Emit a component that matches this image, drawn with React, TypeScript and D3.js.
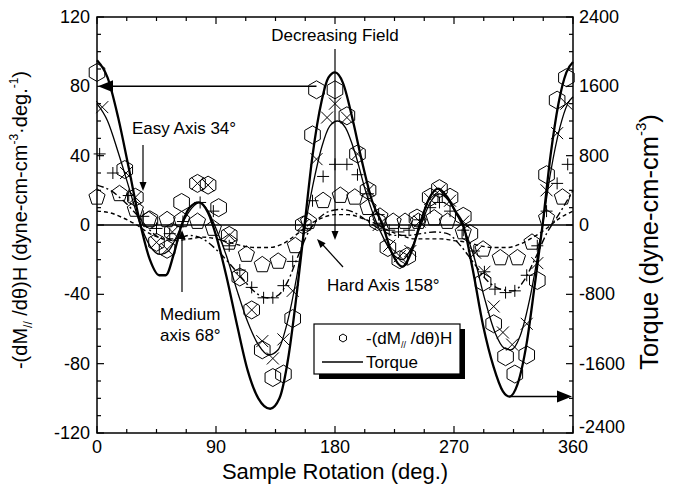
import React from "react";
import * as d3 from "d3";

// ---------- data ----------
const xMajorTicks = [0, 90, 180, 270, 360];
const yLeftTicks = [-120, -80, -40, 0, 40, 80, 120];
const yRightTicks = [-2400, -1600, -800, 0, 800, 1600, 2400];

// torque curves (dyne-cm-cm^-3)
const torqueThickAngles = [0, 8, 16, 24, 32, 40, 47, 52, 58, 64, 70, 77, 84, 90, 98, 106, 114, 122, 131, 138, 145, 151, 157, 163, 170, 175, 180, 186, 193, 200, 208, 216, 223, 231, 238, 244, 251, 258, 265, 271, 277, 284, 292, 300, 307, 312, 318, 325, 331, 337, 343, 349, 355, 360];
const torqueThickValues = [1900, 1700, 1240, 660, 60, -400, -580, -580, -340, 0, 200, 260, 140, -120, -600, -1160, -1680, -2000, -2120, -2000, -1500, -800, 0, 800, 1440, 1700, 1760, 1640, 1240, 760, 280, 0, -320, -480, -300, 0, 300, 420, 320, 160, 0, -500, -1160, -1640, -1920, -1980, -1840, -1360, -700, 0, 800, 1400, 1760, 1880];

const torqueThinAngles = [0, 8, 16, 24, 32, 40, 48, 54, 60, 66, 72, 78, 84, 90, 98, 106, 114, 122, 130, 137, 144, 151, 157, 163, 170, 176, 182, 188, 195, 203, 210, 217, 224, 231, 238, 245, 252, 259, 266, 272, 278, 285, 293, 301, 308, 313, 320, 328, 336, 343, 350, 356, 360];
const torqueThinValues = [1400, 1200, 840, 440, 40, -240, -340, -300, -140, 60, 200, 260, 160, -40, -360, -760, -1120, -1380, -1500, -1440, -1120, -600, -40, 440, 900, 1140, 1200, 1120, 840, 400, 80, -160, -340, -400, -260, 0, 260, 360, 280, 120, -60, -360, -840, -1240, -1420, -1440, -1280, -800, -100, 600, 1120, 1400, 1480];

const torqueDashDotAngles = [0, 10, 20, 30, 40, 50, 60, 70, 80, 90, 100, 110, 120, 128, 136, 144, 152, 160, 168, 176, 185, 195, 205, 215, 225, 235, 245, 255, 265, 275, 285, 295, 305, 315, 323, 331, 340, 350, 360];
const torqueDashDotValues = [460, 400, 280, 120, -60, -160, -160, -120, -160, -280, -440, -620, -780, -840, -820, -660, -360, -80, 80, 160, 180, 140, 40, -60, -120, -120, -100, -80, -100, -240, -440, -640, -740, -760, -640, -400, -100, 140, 400];

const torqueDashAngles = [0, 10, 20, 30, 40, 50, 60, 70, 80, 90, 100, 110, 120, 130, 140, 150, 160, 170, 180, 190, 200, 210, 220, 230, 240, 250, 260, 270, 280, 290, 300, 310, 320, 330, 340, 350, 360];
const torqueDashValues = [160, 140, 80, 0, -100, -160, -180, -160, -140, -160, -200, -240, -260, -260, -220, -120, 0, 80, 120, 120, 80, 20, -60, -120, -160, -160, -160, -180, -200, -240, -260, -260, -220, -140, -40, 80, 160];

// -(dM///dθ)H data (dyne-cm-cm^-3·deg^-1)
const hexAngles = [0, 21, 29, 40, 45, 53, 57, 64, 76, 84, 92, 100, 108, 117, 125, 133, 141, 148, 156, 163, 166, 180, 189, 197, 205, 212, 220, 229, 235, 242, 252, 259, 267, 277, 282, 292, 300, 309, 316, 325, 333, 340, 348, 355];
const hexValues = [88, 32, 16, 3, -10, -14, -4, 13, 24, 23, 10, -6, -30, -49, -72, -88, -86, -54, 0, 52, 78, 78, 63, 41, 20, 2, -13, -20, -18, 4, 16, 21, 16, 5, -5, -33, -57, -76, -86, -75, -32, 29, 72, 85];

const crossAngles = [4, 22, 29, 45, 53, 57, 76, 84, 100, 108, 117, 125, 133, 141, 148, 156, 166, 174, 180, 189, 197, 205, 213, 221, 229, 237, 244, 252, 259, 267, 277, 286, 293, 300, 307, 314, 325, 333, 340, 348, 355];
const crossValues = [68, 30, 16, -10, -14, -4, 24, 23, -6, -30, -49, -67, -77, -66, -38, 0, 38, 62, 70, 62, 41, 20, 0, -12, -18, -15, 2, 15, 20, 14, 2, -16, -27, -47, -62, -69, -57, -22, 20, 53, 70];

const plusAngles = [2, 12, 24, 35, 45, 55, 65, 78, 88, 100, 108, 117, 126, 133, 141, 148, 156, 163, 171, 180, 189, 197, 205, 213, 221, 228, 236, 244, 252, 259, 267, 277, 285, 293, 301, 309, 316, 325, 333, 340, 348, 356];
const plusValues = [41, 30, 17, 5, -2, -5, 2, 13, 8, -12, -26, -36, -42, -42, -35, -21, -3, 14, 28, 35, 35, 29, 18, 6, -3, -4, -3, 3, 10, 13, 8, -3, -15, -27, -37, -39, -38, -29, -12, 8, 24, 35];

const pentAngles = [0, 17, 29, 39, 53, 64, 76, 88, 100, 113, 125, 137, 150, 160, 171, 184, 195, 205, 214, 224, 233, 243, 255, 265, 277, 292, 305, 318, 329, 340, 352];
const pentValues = [16, 18, 9, 3, 3, 3, 2, -2, -10, -17, -23, -21, -12, 2, 14, 17, 16, 10, 5, 2, 2, 2, 4, 2, -4, -14, -19, -19, -10, 4, 16];

// ---------- helpers ----------
const FONT = "'Liberation Sans', Arial, Helvetica, sans-serif";

function polygonPath(cx: number, cy: number, n: number, r: number): string {
  const p = d3.path();
  for (let i = 0; i < n; i++) {
    const a = -Math.PI / 2 + (i * 2 * Math.PI) / n;
    const px = cx + r * Math.cos(a);
    const py = cy + r * Math.sin(a);
    if (i === 0) p.moveTo(px, py);
    else p.lineTo(px, py);
  }
  p.closePath();
  return p.toString();
}

function arrowHead(tipX: number, tipY: number, dirDeg: number, len: number, half: number): string {
  const a = (dirDeg * Math.PI) / 180;
  const bx = tipX - len * Math.cos(a);
  const by = tipY - len * Math.sin(a);
  const nx = -Math.sin(a);
  const ny = Math.cos(a);
  const p = d3.path();
  p.moveTo(tipX, tipY);
  p.lineTo(bx + nx * half, by + ny * half);
  p.lineTo(bx - nx * half, by - ny * half);
  p.closePath();
  return p.toString();
}

export default function App() {
  const left = 97, right = 573, top = 17, bottom = 433;
  const x = d3.scaleLinear().domain([0, 360]).range([left, right]);
  const yL = d3.scaleLinear().domain([-120, 120]).range([bottom, top]);
  const yR = d3.scaleLinear().domain([-2400, 2400]).range([bottom, top]);

  const torqueLine = d3
    .line<[number, number]>()
    .x((d) => x(d[0]))
    .y((d) => yR(d[1]))
    .curve(d3.curveMonotoneX);

  const zip = (a: number[], b: number[]) => a.map((v, i) => [v, b[i]] as [number, number]);

  const xMinor = d3.range(0, 360.01, 22.5);
  const yMinor = d3.range(-120, 120.01, 10);
  const yRMinor = d3.range(-2400, 2400.01, 200);

  const tickText = { fontFamily: FONT, fontSize: 18, fill: "#000" } as const;

  return (
    <svg
      width={678}
      height={498}
      style={{ position: "absolute", left: 0, top: 0, background: "#fff" }}
    >
      <rect x={0} y={0} width={678} height={498} fill="#fff" />
      {/* frame */}
      <rect x={left} y={top} width={right - left} height={bottom - top} fill="none" stroke="#000" strokeWidth={1.5} />
      {/* zero line */}
      <line x1={left} x2={right} y1={yL(0)} y2={yL(0)} stroke="#000" strokeWidth={1.5} />

      {/* x ticks */}
      {xMinor.map((t) => {
        const major = xMajorTicks.includes(t);
        const len = major ? 7 : 4;
        return (
          <g key={"xt" + t}>
            <line x1={x(t)} x2={x(t)} y1={bottom} y2={bottom - len} stroke="#000" strokeWidth={1.2} />
            <line x1={x(t)} x2={x(t)} y1={top} y2={top + len} stroke="#000" strokeWidth={1.2} />
          </g>
        );
      })}
      {xMajorTicks.map((t) => (
        <text key={"xl" + t} x={x(t)} y={bottom + 20} textAnchor="middle" {...tickText}>
          {t}
        </text>
      ))}
      {/* left ticks */}
      {yMinor.map((t) => {
        const major = yLeftTicks.includes(t);
        const len = major ? 7 : 4;
        return <line key={"yt" + t} x1={left} x2={left + len} y1={yL(t)} y2={yL(t)} stroke="#000" strokeWidth={1.2} />;
      })}
      {yLeftTicks.map((t) => (
        <text key={"yl" + t} x={left - 7} y={yL(t) + 6} textAnchor="end" {...tickText}>
          {t}
        </text>
      ))}
      {/* right ticks */}
      {yRMinor.map((t) => {
        const major = yRightTicks.includes(t);
        const len = major ? 7 : 4;
        return <line key={"yrt" + t} x1={right} x2={right - len} y1={yR(t)} y2={yR(t)} stroke="#000" strokeWidth={1.2} />;
      })}
      {yRightTicks.map((t) => (
        <text key={"yrl" + t} x={right + 6} y={yR(t) + (t === -2400 ? 0 : 6)} textAnchor="start" {...tickText}>
          {t}
        </text>
      ))}

      {/* axis titles */}
      <text x={(left + right) / 2} y={479} textAnchor="middle" fontFamily={FONT} fontSize={22}>
        Sample Rotation (deg.)
      </text>
      <text transform="translate(27,220) rotate(-90)" textAnchor="middle" fontFamily={FONT} fontSize={20}>
        -(dM<tspan fontSize={12} dy={5}>//</tspan>
        <tspan dy={-5}> /dθ)H (dyne-cm-cm</tspan>
        <tspan fontSize={12} dy={-9}>-3</tspan>
        <tspan dy={9}>·deg.</tspan>
        <tspan fontSize={12} dy={-9}>-1</tspan>
        <tspan dy={9}>)</tspan>
      </text>
      <text transform="translate(658,242) rotate(-90)" textAnchor="middle" fontFamily={FONT} fontSize={25.5}>
        Torque (dyne-cm-cm<tspan fontSize={15} dy={-12}>-3</tspan>
        <tspan dy={12}>)</tspan>
      </text>

      {/* torque curves */}
      <path d={torqueLine(zip(torqueDashAngles, torqueDashValues)) || ""} fill="none" stroke="#000" strokeWidth={1.4} strokeDasharray="4,3" />
      <path d={torqueLine(zip(torqueDashDotAngles, torqueDashDotValues)) || ""} fill="none" stroke="#000" strokeWidth={1.4} strokeDasharray="7,3,2,3" />
      <path d={torqueLine(zip(torqueThinAngles, torqueThinValues)) || ""} fill="none" stroke="#000" strokeWidth={1.3} />
      <path d={torqueLine(zip(torqueThickAngles, torqueThickValues)) || ""} fill="none" stroke="#000" strokeWidth={2.3} />

      {/* markers */}
      {pentAngles.map((a, i) => (
        <path key={"p" + i} d={polygonPath(x(a), yL(pentValues[i]), 5, 8.5)} fill="none" stroke="#000" strokeWidth={1} />
      ))}
      {hexAngles.map((a, i) => (
        <path key={"h" + i} d={polygonPath(x(a), yL(hexValues[i]), 6, 9)} fill="none" stroke="#000" strokeWidth={1} />
      ))}
      {crossAngles.map((a, i) => {
        const cx = x(a), cy = yL(crossValues[i]), s = 6;
        return (
          <g key={"c" + i} stroke="#000" strokeWidth={1}>
            <line x1={cx - s} y1={cy - s} x2={cx + s} y2={cy + s} />
            <line x1={cx - s} y1={cy + s} x2={cx + s} y2={cy - s} />
          </g>
        );
      })}
      {plusAngles.map((a, i) => {
        const cx = x(a), cy = yL(plusValues[i]), s = 6;
        return (
          <g key={"pl" + i} stroke="#000" strokeWidth={1}>
            <line x1={cx - s} y1={cy} x2={cx + s} y2={cy} />
            <line x1={cx} y1={cy - s} x2={cx} y2={cy + s} />
          </g>
        );
      })}

      {/* arrows to axes */}
      <line x1={x(166)} x2={x(0) + 12} y1={yL(80)} y2={yL(80)} stroke="#000" strokeWidth={1.5} />
      <path d={arrowHead(x(0) + 1, yL(80), 180, 15, 6)} fill="#000" />
      <line x1={x(312)} x2={x(360) - 12} y1={yL(-99)} y2={yL(-99)} stroke="#000" strokeWidth={1.5} />
      <path d={arrowHead(x(360) - 1, yL(-99), 0, 15, 6)} fill="#000" />

      {/* annotations */}
      <text x={x(180)} y={41} textAnchor="middle" fontFamily={FONT} fontSize={17}>
        Decreasing Field
      </text>
      <line x1={x(180)} x2={x(180)} y1={49} y2={232} stroke="#000" strokeWidth={1.2} />
      <path d={arrowHead(x(180), 240, 90, 9, 3.5)} fill="#000" />

      <text x={132} y={134} fontFamily={FONT} fontSize={17}>
        Easy Axis 34°
      </text>
      <line x1={143} x2={143} y1={145} y2={183} stroke="#000" strokeWidth={1.2} />
      <path d={arrowHead(143, 191, 90, 9, 3.5)} fill="#000" />

      <text x={160} y={320} fontFamily={FONT} fontSize={17}>
        Medium
      </text>
      <text x={160} y={341} fontFamily={FONT} fontSize={17}>
        axis 68°
      </text>
      <line x1={182} x2={182} y1={292} y2={238} stroke="#000" strokeWidth={1.2} />
      <path d={arrowHead(182, 230, -90, 9, 3.5)} fill="#000" />

      <text x={327} y={291} fontFamily={FONT} fontSize={17}>
        Hard Axis 158°
      </text>
      <line x1={343} y1={267} x2={323} y2={245} stroke="#000" strokeWidth={1.2} />
      <path d={arrowHead(317, 239, 227.7, 9, 3.5)} fill="#000" />

      {/* legend */}
      <rect x={319} y={329} width={146} height={50} fill="#000" />
      <rect x={314} y={324} width={146} height={50} fill="#fff" stroke="#000" strokeWidth={1.2} />
      <path d={polygonPath(343, 338, 6, 4)} fill="none" stroke="#000" strokeWidth={1} />
      <text x={366} y={344} fontFamily={FONT} fontSize={17}>
        -(dM<tspan fontSize={9} dy={4}>//</tspan>
        <tspan dy={-4}> /dθ)H</tspan>
      </text>
      <line x1={322} x2={363} y1={362} y2={362} stroke="#000" strokeWidth={1.5} />
      <text x={366} y={368} fontFamily={FONT} fontSize={17}>
        Torque
      </text>
    </svg>
  );
}
